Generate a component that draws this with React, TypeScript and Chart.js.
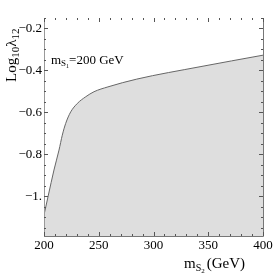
import React, { useEffect, useRef } from "react";
import { Chart, registerables } from "chart.js";

Chart.register(...registerables);

const masses = [200, 204, 209.1, 213.7, 216.7, 219.8, 224.4, 230.4, 238.1, 245.7, 258.4, 284.7, 342.5, 400];
const logLambda = [-1.09, -0.995, -0.876, -0.781, -0.71, -0.654, -0.599, -0.559, -0.527, -0.503, -0.48, -0.443, -0.384, -0.329];

const xMajor = [200, 250, 300, 350, 400];
const xMajorLabels = ["200", "250", "300", "350", "400"];
const yMajor = [-0.2, -0.4, -0.6, -0.8, -1.0];
const yMajorLabels = ["\u22120.2", "\u22120.4", "\u22120.6", "\u22120.8", "\u22121."];
const xMinorStep = 10;
const yMinorStep = 0.05;
const X_MIN = 200, X_MAX = 400, Y_MIN = -1.19, Y_MAX = -0.152;

const SERIF = '"Liberation Serif", "DejaVu Serif", serif';

const framePlugin = {
  id: "frame",
  afterDraw(chart: any) {
    const { ctx, chartArea: a, scales } = chart;
    const xs = scales.x, ys = scales.y;
    ctx.save();
    ctx.strokeStyle = "#777";
    ctx.lineWidth = 1;
    ctx.beginPath();
    ctx.moveTo(a.left, a.bottom + 0.5);
    ctx.lineTo(a.right + 0.5, a.bottom + 0.5);
    ctx.lineTo(a.right + 0.5, a.top);
    ctx.stroke();
    ctx.strokeStyle = "#999";
    ctx.beginPath();
    ctx.moveTo(a.left + 0.5, a.top);
    ctx.lineTo(a.left + 0.5, a.bottom);
    ctx.stroke();
    ctx.strokeStyle = "#555";
    for (let v = X_MIN; v <= X_MAX + 0.01; v += xMinorStep) {
      const major = Math.abs((v - X_MIN) % 50) < 0.01;
      const px = Math.round(xs.getPixelForValue(v)) + 0.5;
      const len = major ? 4 : 2;
      ctx.beginPath();
      ctx.moveTo(px, a.bottom);
      ctx.lineTo(px, a.bottom - len);
      ctx.moveTo(px, a.top);
      ctx.lineTo(px, a.top + len);
      ctx.stroke();
    }
    for (let v = -1.15; v <= -0.15 + 0.001; v += yMinorStep) {
      const major = yMajor.some((m) => Math.abs(m - v) < 0.001);
      const py = Math.round(ys.getPixelForValue(v)) + 0.5;
      const len = major ? 4 : 2;
      ctx.beginPath();
      ctx.moveTo(a.left, py);
      ctx.lineTo(a.left + len, py);
      ctx.moveTo(a.right, py);
      ctx.lineTo(a.right - len, py);
      ctx.stroke();
    }
    ctx.fillStyle = "#000";
    ctx.font = `13px ${SERIF}`;
    ctx.textAlign = "center";
    ctx.textBaseline = "alphabetic";
    xMajor.forEach((v, i) => {
      ctx.fillText(xMajorLabels[i], xs.getPixelForValue(v), a.bottom + 13);
    });
    ctx.textAlign = "right";
    ctx.textBaseline = "middle";
    yMajor.forEach((v, i) => {
      ctx.fillText(yMajorLabels[i], a.left - 2, ys.getPixelForValue(v));
    });
    ctx.textAlign = "left";
    ctx.textBaseline = "alphabetic";
    let x = 184;
    const by = 268;
    ctx.font = `15px ${SERIF}`;
    ctx.fillText("m", x, by);
    x += ctx.measureText("m").width;
    ctx.font = `10px ${SERIF}`;
    ctx.fillText("S", x, by + 3);
    x += ctx.measureText("S").width;
    ctx.font = `7px ${SERIF}`;
    ctx.fillText("2", x, by + 5);
    x += ctx.measureText("2").width + 2;
    ctx.font = `15px ${SERIF}`;
    ctx.fillText("(GeV)", x, by);
    x = 51;
    const ay = 64;
    ctx.font = `13px ${SERIF}`;
    ctx.fillText("m", x, ay);
    x += ctx.measureText("m").width;
    ctx.font = `9px ${SERIF}`;
    ctx.fillText("S", x, ay + 2);
    x += ctx.measureText("S").width;
    ctx.font = `6px ${SERIF}`;
    ctx.fillText("1", x, ay + 4);
    x += ctx.measureText("1").width;
    ctx.font = `13px ${SERIF}`;
    ctx.fillText("=200 GeV", x, ay);
    ctx.save();
    ctx.translate(16, 82);
    ctx.rotate(-Math.PI / 2);
    let t = 0;
    ctx.font = `15px ${SERIF}`;
    ctx.fillText("Log", t, 0);
    t += ctx.measureText("Log").width;
    ctx.font = `11px ${SERIF}`;
    ctx.fillText("10", t, 3);
    t += ctx.measureText("10").width;
    ctx.font = `15px ${SERIF}`;
    ctx.fillText("\u03bb", t, 0);
    t += ctx.measureText("\u03bb").width;
    ctx.font = `11px ${SERIF}`;
    ctx.fillText("12", t, 3);
    ctx.restore();
    ctx.restore();
  },
};

export default function App() {
  const ref = useRef<HTMLCanvasElement>(null);
  useEffect(() => {
    if (!ref.current) return;
    const chart = new Chart(ref.current, {
      type: "line",
      data: {
        datasets: [
          {
            data: masses.map((m, i) => ({ x: m, y: logLambda[i] })),
            borderColor: "#666",
            borderWidth: 1,
            backgroundColor: "#dedede",
            fill: "start",
            pointRadius: 0,
            cubicInterpolationMode: "monotone",
          },
        ],
      },
      options: {
        animation: false,
        responsive: false,
        devicePixelRatio: 1,
        layout: { padding: { left: 44, right: 11, top: 18, bottom: 40 } },
        plugins: { legend: { display: false }, tooltip: { enabled: false } },
        scales: {
          x: { type: "linear", min: X_MIN, max: X_MAX, display: false },
          y: { type: "linear", min: Y_MIN, max: Y_MAX, display: false },
        },
      },
      plugins: [framePlugin],
    });
    return () => chart.destroy();
  }, []);
  return (
    <div style={{ position: "fixed", left: 0, top: 0, width: 274, height: 276, background: "#fff" }}>
      <canvas ref={ref} width={274} height={276} style={{ width: 274, height: 276, display: "block" }} />
    </div>
  );
}
